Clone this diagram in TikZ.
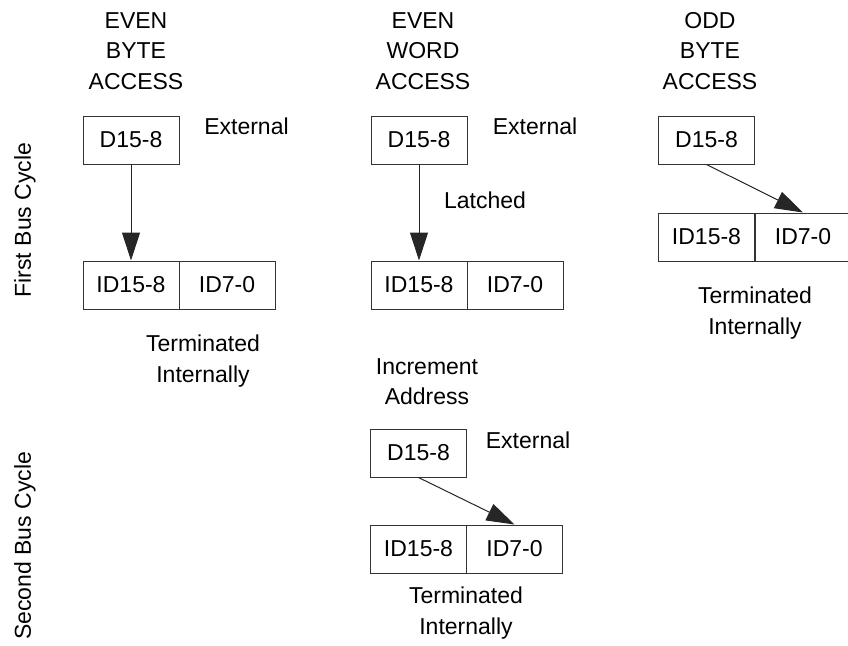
\documentclass[tikz,border=0pt]{standalone}
\usepackage{fontspec}
\setmainfont{Liberation Sans}
\usetikzlibrary{arrows.meta}
\begin{document}
\begin{tikzpicture}[x=1pt,y=-1pt,
  every node/.style={font=\fontsize{23}{30.5}\selectfont, text=black},
  reg/.style={draw=black!80, line width=1pt, minimum width=96pt, minimum height=48pt, inner sep=0pt, anchor=center},
  lbl/.style={inner sep=0pt, anchor=north, align=center},
  side/.style={inner sep=0pt, anchor=center, rotate=90},
  flow/.style={draw=black!85, line width=1pt, -{Triangle[length=28pt,width=18pt]}}
]
\useasboundingbox (0,0) rectangle (848,645);

% column 1: even byte access
\node[lbl] (h1) at (136,12) {EVEN\\BYTE\\ACCESS};
\node[reg] (d1) at (131,140) {D15-8};
\node[reg] (a1) at (131,285) {ID15-8};
\node[reg] (b1) at (227,285) {ID7-0};
\node[lbl] (e1) at (246.5,118) {External};
\node[lbl] (t1) at (203,335) {Terminated\\Internally};
\draw[flow] (d1.south) -- (a1.north);

% column 2: even word access
\node[lbl] (h2) at (423,12) {EVEN\\WORD\\ACCESS};
\node[reg] (d2) at (419,140) {D15-8};
\node[reg] (a2) at (419,285) {ID15-8};
\node[reg] (b2) at (515,285) {ID7-0};
\node[lbl] (e2) at (535,118) {External};
\node[lbl] (l2) at (485,192) {Latched};
\draw[flow] (d2.south) -- (a2.north);
\node[lbl] (i2) at (427,358) {Increment\\Address};
\node[reg] (d4) at (418.5,453) {D15-8};
\node[reg] (a4) at (418.5,549) {ID15-8};
\node[reg] (b4) at (514.5,549) {ID7-0};
\node[lbl] (e4) at (528,432) {External};
\node[lbl] (t4) at (466,587) {Terminated\\Internally};
\draw[flow] (d4.south) -- (b4.north);

% column 3: odd byte access
\node[lbl] (h3) at (710,12) {ODD\\BYTE\\ACCESS};
\node[reg] (d3) at (706.5,140) {D15-8};
\node[reg] (a3) at (706.5,237) {ID15-8};
\node[reg] (b3) at (803,237) {ID7-0};
\node[lbl] (t3) at (755,287) {Terminated\\Internally};
\draw[flow] (d3.south) -- (b3.north);

% row labels
\node[side] (r1) at (25,220) {First Bus Cycle};
\node[side] (r2) at (25,546) {Second Bus Cycle};
\end{tikzpicture}
\end{document}
